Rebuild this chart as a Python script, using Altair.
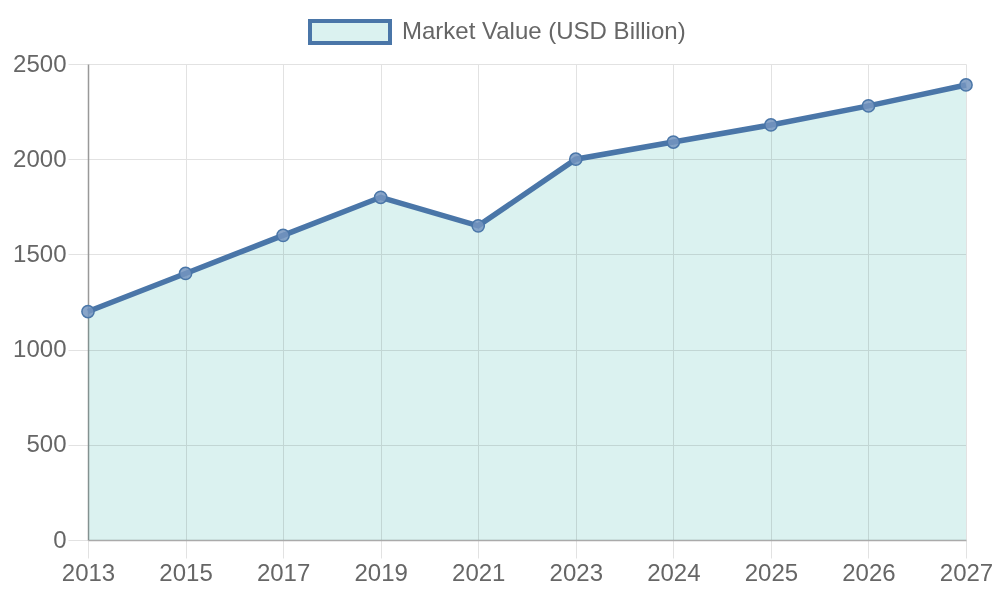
import altair as alt
import pandas as pd

years = ["2013", "2015", "2017", "2019", "2021", "2023", "2024", "2025", "2026", "2027"]
values = [1200, 1400, 1600, 1800, 1650, 2000, 2090, 2180, 2280, 2390]
series = ["Market Value (USD Billion)"] * len(years)

df = pd.DataFrame({"year": years, "value": values, "series": series})

LINE = "#4a76a8"
FILL = "#dbf2f0"
GRID = "#e2e2e2"
TEXT = "#666666"
FONT = "Liberation Sans"
FS = 24

x_enc = alt.X(
    "year:O",
    sort=years,
    scale=alt.Scale(type="point", padding=0),
    axis=alt.Axis(
        title=None, labelAngle=0, labelFontSize=FS, labelColor=TEXT, labelFont=FONT,
        grid=True, gridColor=GRID, tickColor=GRID, tickSize=18, labelPadding=3,
        domainColor="#aaaaaa", domainWidth=1.5,
    ),
)
y_enc = alt.Y(
    "value:Q",
    scale=alt.Scale(domain=[0, 2500], nice=False),
    axis=alt.Axis(
        title=None, values=[0, 500, 1000, 1500, 2000, 2500], format="d",
        labelFontSize=FS, labelColor=TEXT, labelFont=FONT, grid=True, gridColor=GRID,
        tickColor=GRID, tickSize=20, labelPadding=2, domainColor="#999999",
        domainWidth=1.5,
    ),
)

legend = alt.Legend(
    title=None, orient="none", legendX=220, legendY=-74,
    symbolType="M-1,-0.275H1V0.275H-1Z", symbolSize=6400,
    symbolStrokeWidth=4, symbolStrokeColor=LINE, symbolFillColor=FILL,
    symbolOpacity=1, labelFontSize=FS, labelColor=TEXT, labelFont=FONT,
    labelOffset=10, labelLimit=400,
)

base = alt.Chart(df)

# Multiply blend keeps the gridlines visible through the fill.
area = base.mark_area(opacity=1, blend="multiply").encode(
    x=x_enc, y=y_enc,
    color=alt.Color("series:N", scale=alt.Scale(range=[FILL]), legend=legend),
)
line = base.mark_line(color=LINE, strokeWidth=5.5).encode(x=x_enc, y=y_enc)
points = base.mark_point(
    filled=True, fill="#7495c0", fillOpacity=0.85, stroke=LINE, strokeWidth=1.5,
    size=150, opacity=1,
).encode(x=x_enc, y=y_enc)

chart = (
    alt.layer(area, line, points)
    .properties(
        width=878, height=476,
        autosize=alt.AutoSizeParams(type="none"),
        padding={"left": 88, "top": 64, "right": 34, "bottom": 60},
    )
    .configure_view(stroke=None)
)

chart.save("out.html", embed_options={"renderer": "svg", "actions": False})
